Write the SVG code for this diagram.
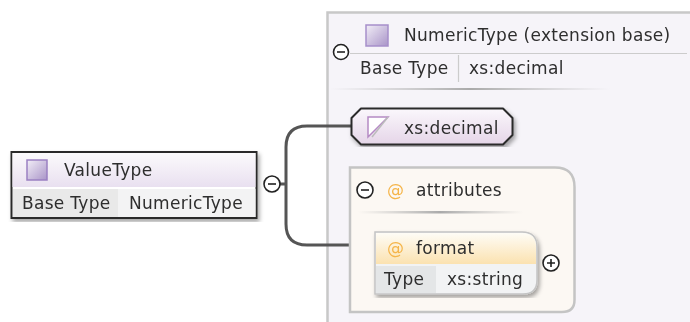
<svg xmlns="http://www.w3.org/2000/svg" width="690" height="322" viewBox="0 0 690 322">
<style>
text{font-family:"DejaVu Sans",sans-serif;font-size:17px;letter-spacing:.3px;fill:#2e2e2e}
.at{fill:#f5b54a;font-size:17px}
.tog{fill:#fff;stroke:#222;stroke-width:1.6}
.sign{stroke:#222;stroke-width:1.6;fill:none}
.conn{fill:none;stroke:#555;stroke-width:3}
</style>
<defs>
<linearGradient id="icon" x1="0" y1="0" x2="1" y2="1"><stop offset="0" stop-color="#f2eef7"/><stop offset="1" stop-color="#a994c8"/></linearGradient>
<linearGradient id="head" x1="0" y1="0" x2="0" y2="1"><stop offset="0" stop-color="#fbfafc"/><stop offset="1" stop-color="#e9e0f0"/></linearGradient>
<linearGradient id="pill" x1="0" y1="0" x2="0" y2="1"><stop offset="0" stop-color="#fbf8fc"/><stop offset="1" stop-color="#e5d5e8"/></linearGradient>
<linearGradient id="orange" x1="0" y1="0" x2="0" y2="1"><stop offset="0" stop-color="#fefcf6"/><stop offset="1" stop-color="#fbe2b0"/></linearGradient>
<linearGradient id="fade" x1="0" y1="0" x2="1" y2="0"><stop offset="0" stop-color="#bbb" stop-opacity="0"/><stop offset=".5" stop-color="#aaa"/><stop offset="1" stop-color="#bbb" stop-opacity="0"/></linearGradient>
<filter id="sh" x="-10%" y="-10%" width="120%" height="130%"><feDropShadow dx="2" dy="3" stdDeviation="2" flood-color="#000" flood-opacity=".35"/></filter>
<filter id="blur" x="-5%" y="-5%" width="110%" height="110%"><feGaussianBlur stdDeviation=".5"/></filter>
</defs>
<rect width="690" height="322" fill="#fff"/>
<g id="panel" filter="url(#blur)">
<path d="M710 12.500H327.500V340H710Z" fill="#f6f4f9" stroke="#c8c8c8" stroke-width="2.500"/>
<rect x="366" y="25" width="22" height="21" fill="url(#icon)" stroke="#a68fca" stroke-width="1.500"/>
<text x="404" y="41">NumericType (extension base)</text>
<path d="M350 53.500H687" stroke="#ccc" stroke-width="1.200"/>
<text x="360" y="74">Base Type</text>
<path d="M458.500 55V82" stroke="#ccc" stroke-width="1.200"/>
<text x="469" y="74">xs:decimal</text>
<rect x="330" y="88" width="280" height="2" fill="url(#fade)"/>
<circle class="tog" cx="341" cy="52" r="7.500"/><path class="sign" d="M337 52H345"/>
</g>
<g id="connectors" filter="url(#blur)">
<path class="conn" d="M352 126H307Q286 126 286 147V224Q286 245 307 245H375"/>
<path class="conn" d="M279 184H286" stroke-width="2"/>
</g>
<g id="ValueType" filter="url(#blur)">
<rect x="11.500" y="152" width="245" height="66" fill="#fff" stroke="#2a2a2a" stroke-width="2" filter="url(#sh)"/>
<rect x="12.500" y="153" width="243" height="34" fill="url(#head)"/>
<rect x="13" y="189" width="105" height="28" fill="#e9e9e9"/>
<rect x="118" y="189" width="137.500" height="28" fill="#f3f3f4"/>
<rect x="27" y="160" width="20" height="20" fill="url(#icon)" stroke="#9a80c2" stroke-width="1.500"/>
<text x="64" y="176">ValueType</text>
<text x="22" y="209">Base Type</text>
<text x="129" y="209">NumericType</text>
<circle class="tog" cx="272" cy="184" r="8"/><path class="sign" d="M268 184H276"/>
</g>
<g id="decimal" filter="url(#blur)">
<path d="M361 108.500H503L512.500 118V135L503 144.500H361L351.500 135V118Z" fill="url(#pill)" stroke="#2a2a2a" stroke-width="2" stroke-linejoin="round" filter="url(#sh)"/>
<path d="M368 117H388L368 137Z" fill="#fff" stroke="#b58ac4" stroke-width="1.500"/>
<path d="M388 117L372 137" stroke="#bbb" stroke-width="1.500"/>
<text x="404" y="134">xs:decimal</text>
</g>
<g id="attributes" filter="url(#blur)">
<path d="M350 167.500H555Q574.500 167.500 574.500 187V300Q574.500 312 562 312H350Z" fill="#fcf8f3" stroke="#c4c4c4" stroke-width="2.500"/>
<circle class="tog" cx="365" cy="190" r="8"/><path class="sign" d="M361 190H369"/>
<text class="at" x="387" y="196">@</text>
<text x="416" y="196">attributes</text>
<rect x="358" y="211" width="165" height="2.500" fill="url(#fade)"/>
</g>
<g id="format" filter="url(#blur)">
<path d="M375 232H522Q537 232 537 247V280Q537 294 523 294H375Z" fill="#f2f3f4" stroke="#c4c4c4" stroke-width="1.500" filter="url(#sh)"/>
<path d="M376 233H522Q536 233 536 247V264H376Z" fill="url(#orange)"/>
<rect x="376" y="266" width="60" height="27" fill="#e4e6e7"/>
<text class="at" x="387" y="254">@</text>
<text x="416" y="254">format</text>
<text x="384" y="285">Type</text>
<text x="447" y="285">xs:string</text>
<circle class="tog" cx="551" cy="263" r="8"/><path class="sign" d="M547 263H555M551 259V267"/>
</g>
</svg>
